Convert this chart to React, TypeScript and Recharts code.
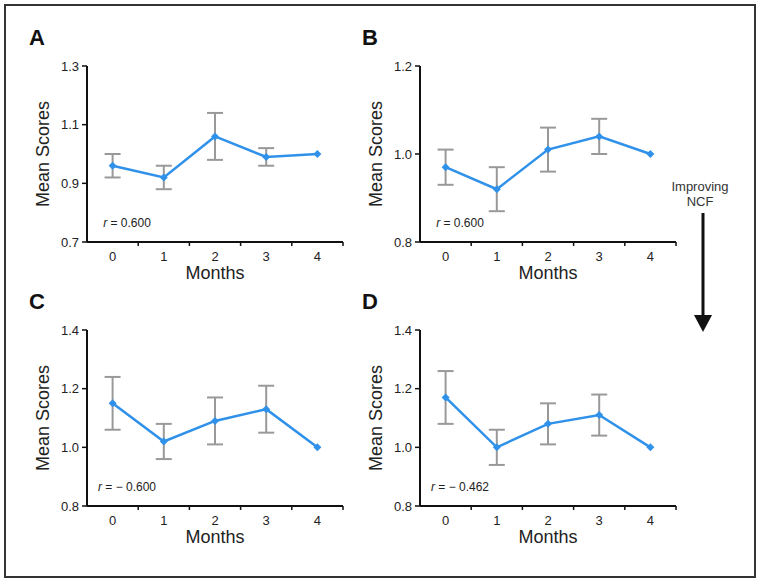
import React from "react";
import { LineChart, Line, XAxis, YAxis, ErrorBar, Label } from "recharts";

const months = [0, 1, 2, 3, 4];
const xTicks = [0, 0.5, 1, 1.5, 2, 2.5, 3, 3.5, 4, 4.5];

const meanA = [0.96, 0.92, 1.06, 0.99, 1.0];
const errA = [0.04, 0.04, 0.08, 0.03, null];
const meanB = [0.97, 0.92, 1.01, 1.04, 1.0];
const errB = [0.04, 0.05, 0.05, 0.04, null];
const meanC = [1.15, 1.02, 1.09, 1.13, 1.0];
const errC = [0.09, 0.06, 0.08, 0.08, null];
const meanD = [1.17, 1.0, 1.08, 1.11, 1.0];
const errD = [0.09, 0.06, 0.07, 0.07, null];

const yTicksA = [0.7, 0.9, 1.1, 1.3];
const yTicksB = [0.8, 1.0, 1.2];
const yTicksCD = [0.8, 1.0, 1.2, 1.4];

const BLUE = "#2f91e9";
const AXIS = "#111";
const FONT = "'Liberation Sans', Arial, Helvetica, sans-serif";

const toRows = (means: number[], errs: (number | null)[]) =>
  months.map((m, i) => ({ month: m, mean: means[i], err: errs[i] }));

const XTick = (props: any) => {
  const { x, y, payload } = props;
  const v = payload.value;
  if (Number.isInteger(v)) {
    return (
      <text x={x} y={y + 19} textAnchor="middle" fontSize={13} fill="#222" fontFamily={FONT}>
        {v}
      </text>
    );
  }
  return <line x1={x} x2={x} y1={y} y2={y + 4} stroke={AXIS} strokeWidth={1.5} />;
};

const diamond = (p: any) => {
  const { cx, cy, index } = p;
  if (cx == null || cy == null) return <g key={index} />;
  const r = 4;
  return (
    <path
      key={index}
      d={`M${cx},${cy - r}L${cx + r},${cy}L${cx},${cy + r}L${cx - r},${cy}Z`}
      fill={BLUE}
    />
  );
};

interface PanelProps {
  letter: string;
  means: number[];
  errs: (number | null)[];
  yDomain: [number, number];
  yTicks: number[];
  rValue: string;
  left: number;
  top: number;
}

function Panel({ letter, means, errs, yDomain, yTicks, rValue, left, top }: PanelProps) {
  const data = toRows(means, errs);
  return (
    <div style={{ position: "absolute", left, top }}>
      <LineChart
        width={360}
        height={290}
        data={data}
        margin={{ top: 66, right: 17, left: 47, bottom: 17 }}
      >
        <XAxis
          dataKey="month"
          type="number"
          domain={[-0.5, 4.5]}
          ticks={xTicks}
          interval={0}
          tickSize={0}
          tickMargin={0}
          tickLine={false}
          tick={XTick}
          height={31}
          stroke={AXIS}
          axisLine={{ stroke: AXIS, strokeWidth: 2 }}
        >
          <Label
            content={(p: any) => {
              const vb = p.viewBox;
              return (
                <text
                  x={vb.x + vb.width / 2}
                  y={vb.y + 37}
                  textAnchor="middle"
                  fontSize={18}
                  fill="#222"
                  fontFamily={FONT}
                >
                  Months
                </text>
              );
            }}
          />
          <Label
            content={(p: any) => {
              const vb = p.viewBox;
              return (
                <text
                  x={vb.x + 40}
                  y={vb.y - 15}
                  textAnchor="middle"
                  fontSize={12}
                  fill="#222"
                  fontFamily={FONT}
                >
                  <tspan fontStyle="italic">r</tspan>
                  {rValue}
                </text>
              );
            }}
          />
        </XAxis>
        <YAxis
          type="number"
          domain={yDomain}
          ticks={yTicks}
          interval={0}
          width={40}
          tickSize={5}
          tickMargin={3}
          stroke={AXIS}
          tickFormatter={(v: number) => v.toFixed(1)}
          tick={{ fontSize: 13, fill: "#222", fontFamily: FONT }}
          tickLine={{ stroke: AXIS, strokeWidth: 1.5 }}
          axisLine={{ stroke: AXIS, strokeWidth: 2 }}
        >
          <Label
            content={(p: any) => {
              const vb = p.viewBox;
              const px = vb.x + vb.width;
              const cy = vb.y + vb.height / 2;
              return (
                <g>
                  <text
                    x={px - 44}
                    y={cy}
                    transform={`rotate(-90, ${px - 44}, ${cy})`}
                    textAnchor="middle"
                    dominantBaseline="central"
                    fontSize={18}
                    fill="#222"
                    fontFamily={FONT}
                  >
                    Mean Scores
                  </text>
                  <text
                    x={px - 58}
                    y={vb.y - 21}
                    fontSize={22}
                    fontWeight="bold"
                    fill="#111"
                    fontFamily={FONT}
                  >
                    {letter}
                  </text>
                </g>
              );
            }}
          />
        </YAxis>
        <Line
          type="linear"
          dataKey="mean"
          stroke={BLUE}
          strokeWidth={2.5}
          dot={diamond}
          activeDot={false}
          isAnimationActive={false}
        >
          <ErrorBar dataKey="err" direction="y" width={8} stroke="#999" strokeWidth={2} />
        </Line>
      </LineChart>
    </div>
  );
}

export default function App() {
  return (
    <div
      style={{
        position: "absolute",
        left: 0,
        top: 0,
        width: 762,
        height: 583,
        background: "#fff",
        fontFamily: FONT,
      }}
    >
      <svg width={762} height={583} style={{ position: "absolute", left: 0, top: 0 }}>
        <rect x={5} y={5} width={750} height={572} fill="none" stroke="#333" strokeWidth={2} />
        <text x={700} y={191} textAnchor="middle" fontSize={13} fill="#333" fontFamily={FONT}>
          Improving
        </text>
        <text x={700} y={206} textAnchor="middle" fontSize={13} fill="#333" fontFamily={FONT}>
          NCF
        </text>
        <line x1={703} x2={703} y1={213} y2={318} stroke="#111" strokeWidth={3} />
        <polygon points="694,315 712,315 703,332" fill="#111" />
      </svg>
      <Panel letter="A" means={meanA} errs={errA} yDomain={[0.7, 1.3]} yTicks={yTicksA} rValue=" = 0.600" left={0} top={0} />
      <Panel letter="B" means={meanB} errs={errB} yDomain={[0.8, 1.2]} yTicks={yTicksB} rValue=" = 0.600" left={333} top={0} />
      <Panel letter="C" means={meanC} errs={errC} yDomain={[0.8, 1.4]} yTicks={yTicksCD} rValue=" = − 0.600" left={0} top={264} />
      <Panel letter="D" means={meanD} errs={errD} yDomain={[0.8, 1.4]} yTicks={yTicksCD} rValue=" = − 0.462" left={333} top={264} />
    </div>
  );
}
